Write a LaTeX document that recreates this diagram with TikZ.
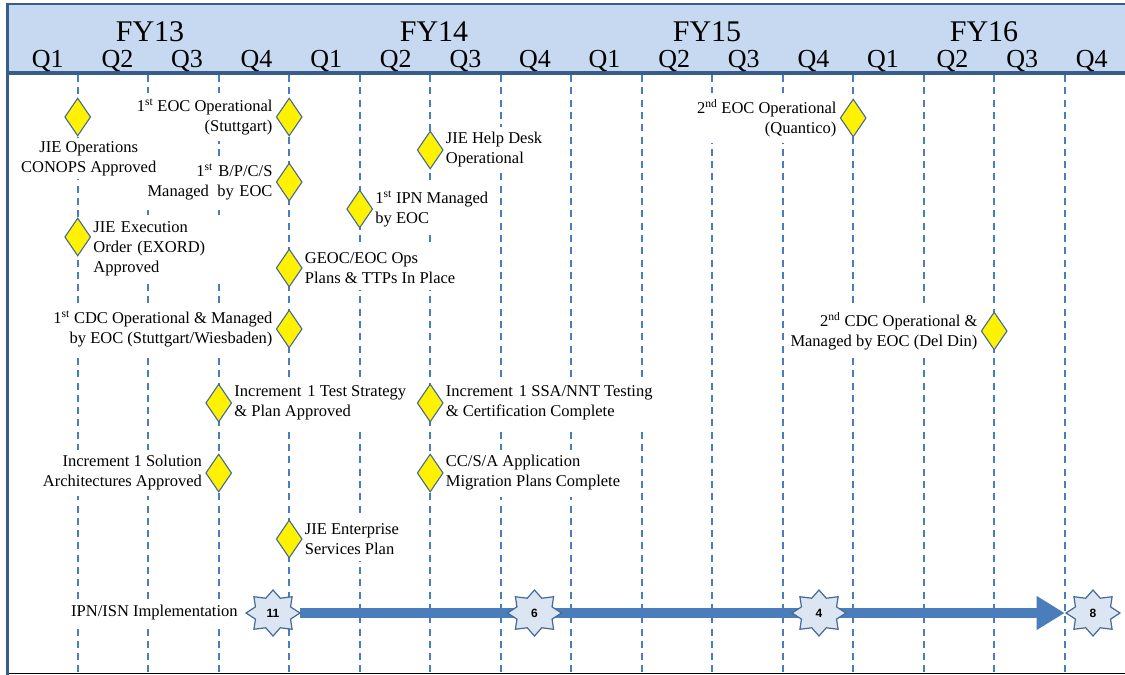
\documentclass[tikz,border=0pt]{standalone}
\usepackage{fontspec}
\setmainfont{Liberation Serif}
\setsansfont{Liberation Sans}
\usetikzlibrary{shapes,arrows.meta,positioning,calc,backgrounds}

\definecolor{hdrfill}{RGB}{198,217,241}
\definecolor{hdrline}{RGB}{56,93,138}
\definecolor{gridblue}{RGB}{74,126,187}
\definecolor{msedge}{RGB}{70,105,150}
\definecolor{badgefill}{RGB}{220,230,242}
\definecolor{baseline}{RGB}{185,205,229}

\tikzset{
  milestone/.style={diamond, draw=msedge, line width=1.1pt, fill=yellow,
    minimum width=26pt, minimum height=38pt, inner sep=0pt},
  mslabel/.style={fill=white, inner xsep=2pt, inner ysep=6pt,
    font=\fontsize{16.5}{20}\selectfont},
  qline/.style={gridblue, line width=1.6pt, dash pattern=on 7pt off 5.3pt},
  badge/.style={draw=msedge, line width=1.2pt, fill=badgefill},
  badgenum/.style={minimum width=54pt, minimum height=46pt, inner sep=0pt,
    font=\sffamily\bfseries\fontsize{12}{14}\selectfont},
  bar/.style={gridblue, line width=10pt, -{Triangle[length=28pt,width=32pt]}}
}

\begin{document}
\begin{tikzpicture}[x=1pt,y=-1pt]
    \useasboundingbox (0,0) rectangle (1125,675);

    % header
    \fill[hdrfill] (7.5,4) rectangle (1125,73);
    \draw[hdrline, line width=2.5pt] (7.5,4) -- (1125,4);
    \draw[hdrline, line width=3.5pt] (7.5,73) -- (1125,73);
    \foreach \fy/\x in {13/150,14/434,15/707,16/984}
        \node[anchor=base, inner sep=0pt, font=\fontsize{30}{30}\selectfont] (fy\fy) at (\x,41) {FY\fy};
    \foreach \k in {0,...,15} {
        \pgfmathtruncatemacro\q{mod(\k,4)+1}
        \node[anchor=base, inner sep=0pt, font=\fontsize{26}{26}\selectfont] (q\k) at ({47.8+69.6*\k},67) {Q\q};
    }

    % milestones (quarter line, height)
    \foreach \n/\i/\y in {1/0/117, 2/3/117, 3/3/182, 4/0/237, 5/3/268, 6/4/209, 7/5/150,
                          8/3/329, 9/2/403, 10/5/403, 11/2/473, 12/5/473, 13/3/539,
                          14/11/118, 15/13/331}
        \node[milestone] (d\n) at ({77.7+70.5*\i},\y) {};

    \node[mslabel, left=1pt of d2, align=right] (l2) {1\textsuperscript{st} EOC Operational\\(Stuttgart)};
    \node[mslabel, left=1pt of d3, align=right, text width=130pt] (l3) {1\textsuperscript{st} B/P/C/S\\Managed\hspace{3pt} by EOC};
    \node[mslabel, below=1.5pt of d1, xshift=11pt, align=center, inner ysep=3pt] (l1) {JIE Operations\\CONOPS Approved};
    \node[mslabel, right=0pt of d4, yshift=-11.5pt, align=left, text width=134pt] (l4) {JIE Execution\\Order (EXORD)\\Approved};
    \node[mslabel, right=0pt of d5, align=left] (l5) {GEOC/EOC Ops\\Plans \& TTPs In Place};
    \node[mslabel, right=0pt of d6, align=left] (l6) {1\textsuperscript{st} IPN Managed\\by EOC};
    \node[mslabel, right=0pt of d7, align=left] (l7) {JIE Help Desk\\Operational};
    \node[mslabel, left=1pt of d8, align=right] (l8) {1\textsuperscript{st} CDC Operational \& Managed\\by EOC (Stuttgart/Wiesbaden)};
    \node[mslabel, right=0pt of d9, align=left] (l9) {Increment\hspace{2pt} 1 Test Strategy\\\& Plan Approved};
    \node[mslabel, right=0pt of d10, align=left] (l10) {Increment\hspace{2pt} 1 SSA/NNT Testing\\\& Certification Complete};
    \node[mslabel, left=1pt of d11, align=right] (l11) {Increment 1 Solution\\Architectures Approved};
    \node[mslabel, right=0pt of d12, align=left] (l12) {CC/S/A Application\\Migration Plans Complete};
    \node[mslabel, right=0pt of d13, align=left] (l13) {JIE Enterprise\\Services Plan};
    \node[mslabel, left=1pt of d14, align=right] (l14) {2\textsuperscript{nd} EOC Operational\\(Quantico)};
    \node[mslabel, left=1pt of d15, align=right] (l15) {2\textsuperscript{nd} CDC Operational \&\\Managed by EOC (Del Din)};

    % IPN/ISN implementation track
    \foreach \n/\x in {11/273,6/534.5,4/819,8/1093} {
        \draw[badge] (\x,613) +(0:27 and 23)
            \foreach \a in {0,45,...,315} { -- +({\a+22.5}:19 and 16) -- +({\a+45}:27 and 23) } -- cycle;
        \node[badgenum] (s\n) at (\x,613) {\n};
    }
    \node[mslabel, left=6pt of s11] (ipn) {IPN/ISN Implementation};
    \coordinate (tip) at ({77.7+70.5*14},613);

    \begin{pgfonlayer}{background}
        \foreach \i in {0,...,14}
            \draw[qline] ({77.7+70.5*\i},75) -- ({77.7+70.5*\i},673);
        \draw[bar] (s11.east) -- (tip);
    \end{pgfonlayer}

    % frame
    \draw[baseline, line width=1.5pt] (7.5,673.5) -- (1125,673.5);
    \draw[hdrline, line width=3pt] (7.5,2.75) -- (7.5,675);
\end{tikzpicture}
\end{document}
